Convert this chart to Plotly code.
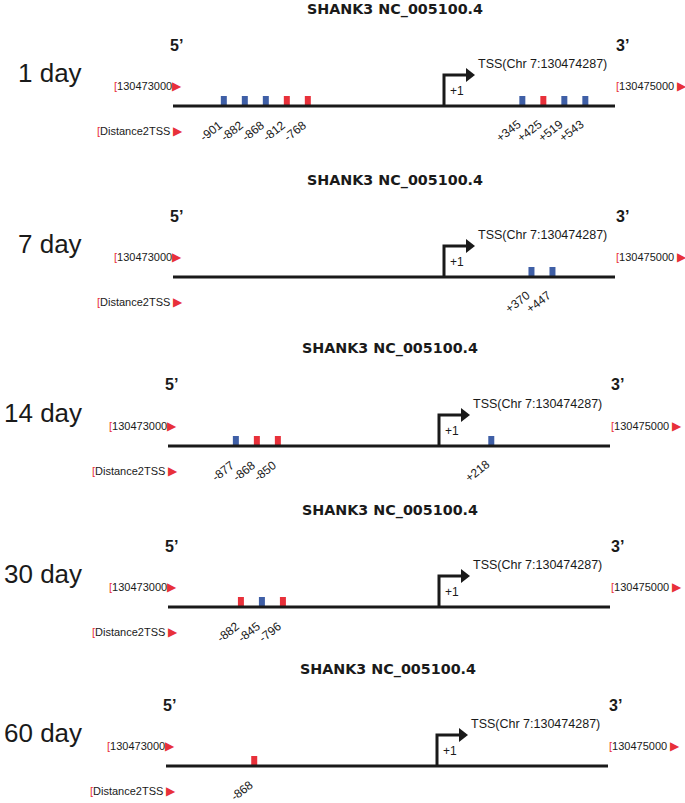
import plotly.graph_objects as go

# ---------------- data ----------------
GENE_TITLE = "SHANK3 NC_005100.4"
REGION_START = 130473000
REGION_END = 130475000
TSS = 130474287
TSS_LABEL = "TSS(Chr 7:130474287)"
DIST_LABEL = "Distance2TSS"

day_labels = ["1 day", "7 day", "14 day", "30 day", "60 day"]
blue_sites = [
    [-901, -882, -868, 345, 519, 543],
    [370, 447],
    [-877, 218],
    [-845],
    [],
]
red_sites = [
    [-812, -768, 425],
    [],
    [-868, -850],
    [-882, -796],
    [-868],
]

# ---------------- layout / style ----------------
W, H = 685, 803
panel_line_y = [106, 277, 446, 607, 766]
panel_line_x0 = [173, 173, 168, 168, 166]
LINE_LEN = 442
TSS_OFF = 271
BLUE = "#3f5fa6"
RED = "#e8303a"
INK = "#1a1a1a"
FONT = "Liberation Sans, Arial, sans-serif"
MARK_W = 6
MARK_H = 10
MARK_GAP = 21
Y_LO, Y_HI = -35, 100
PAD = 8
ARROW_H = 31
ARROW_W = 22
TRI_SIZE = 12

up_span = TSS - REGION_START
down_span = REGION_END - TSS
up_scale = TSS_OFF / up_span
down_scale = (LINE_LEN - TSS_OFF) / down_span


def spread(values, gap):
    """Keep markers apart: overlapping groups keep their centroid, members spaced by gap."""
    vals = sorted(values)
    clusters = [[v] for v in vals]

    def pos(c):
        m = sum(c) / len(c)
        n = len(c)
        return [m + (i - (n - 1) / 2) * gap for i in range(n)]

    merged = True
    while merged:
        merged = False
        out = []
        for c in clusters:
            if out and pos(out[-1])[-1] + gap > pos(c)[0] + 1e-9:
                out[-1] = out[-1] + c
                merged = True
            else:
                out.append(c)
        clusters = out
    result = []
    for c in clusters:
        result.extend(zip(c, pos(c)))
    return result


fig = go.Figure()
layout = dict(
    width=W, height=H, margin=dict(l=0, r=0, t=0, b=0),
    paper_bgcolor="white", plot_bgcolor="rgba(0,0,0,0)",
    showlegend=False, barmode="overlay",
    font=dict(family=FONT, color=INK, size=12),
)
annotations = []

for k in range(5):
    ly = panel_line_y[k]
    x0 = panel_line_x0[k]
    yi = k + 1
    xu, xd = 2 * k + 1, 2 * k + 2
    yname = "y" if yi == 1 else f"y{yi}"
    xun = "x" if xu == 1 else f"x{xu}"
    xdn = f"x{xd}"

    layout["yaxis" if yi == 1 else f"yaxis{yi}"] = dict(
        domain=[(H - (ly - Y_LO)) / H, (H - (ly - Y_HI)) / H],
        range=[Y_LO, Y_HI], visible=False, fixedrange=True, anchor=xun)
    layout["xaxis" if xu == 1 else f"xaxis{xu}"] = dict(
        domain=[x0 / W, (x0 + TSS_OFF) / W], range=[-up_span, 0],
        visible=False, fixedrange=True, anchor=yname)
    layout[f"xaxis{xd}"] = dict(
        domain=[(x0 + TSS_OFF - PAD) / W, (x0 + LINE_LEN) / W],
        range=[-PAD / down_scale, down_span],
        visible=False, fixedrange=True, anchor=yname)

    sites = [(d, BLUE) for d in blue_sites[k]] + [(d, RED) for d in red_sites[k]]
    color_of = {}
    for d, c in sites:
        color_of[d] = c
    up_vals = [d for d, _ in sites if d < 0]
    down_vals = [d for d, _ in sites if d > 0]
    placed = []
    for vals, scale, xn in ((up_vals, up_scale, xun), (down_vals, down_scale, xdn)):
        if not vals:
            continue
        for d, p in spread(vals, MARK_GAP / scale):
            placed.append((d, p, scale, xn))

    for color in (BLUE, RED):
        for xn, scale in ((xun, up_scale), (xdn, down_scale)):
            pts = [p for d, p, s, x in placed if x == xn and color_of[d] == color]
            if pts:
                fig.add_trace(go.Bar(
                    x=pts, y=[MARK_H] * len(pts), width=MARK_W / scale,
                    marker=dict(color=color, line=dict(width=0)),
                    xaxis=xn, yaxis=yname, hoverinfo="skip"))

    # genomic line (region start -> TSS -> region end)
    fig.add_trace(go.Scatter(x=[-up_span, 0], y=[0, 0], mode="lines",
                             line=dict(color=INK, width=3), xaxis=xun, yaxis=yname,
                             hoverinfo="skip"))
    fig.add_trace(go.Scatter(x=[0, down_span], y=[0, 0], mode="lines",
                             line=dict(color=INK, width=3), xaxis=xdn, yaxis=yname,
                             hoverinfo="skip"))
    # TSS bent arrow
    aw = ARROW_W / down_scale
    fig.add_trace(go.Scatter(x=[0, 0, aw], y=[0, ARROW_H, ARROW_H], mode="lines",
                             line=dict(color=INK, width=3), xaxis=xdn, yaxis=yname,
                             hoverinfo="skip"))
    fig.add_trace(go.Scatter(x=[(ARROW_W + TRI_SIZE / 4) / down_scale], y=[ARROW_H],
                             mode="markers",
                             marker=dict(symbol="triangle-right", size=TRI_SIZE, color=INK,
                                         line=dict(width=0)),
                             xaxis=xdn, yaxis=yname, hoverinfo="skip"))

    # texts
    annotations.append(dict(text=f"<b>{GENE_TITLE}</b>", xref="paper", yref=yname,
                            x=(x0 + LINE_LEN / 2 + 1) / W, y=97, showarrow=False,
                            xanchor="center", yanchor="middle",
                            font=dict(family="DejaVu Sans", size=14.3, color=INK)))
    annotations.append(dict(text=day_labels[k], xref="paper", yref=yname,
                            x=84 / W, y=33, showarrow=False,
                            xanchor="right", yanchor="middle",
                            font=dict(size=26, color=INK)))
    annotations.append(dict(text="<b>5\u2019</b>", xref="paper", yref=yname,
                            x=(x0 + 3) / W, y=61, showarrow=False,
                            xanchor="center", yanchor="middle", font=dict(size=16)))
    annotations.append(dict(text="<b>3\u2019</b>", xref="paper", yref=yname,
                            x=(x0 + LINE_LEN + 7) / W, y=61, showarrow=False,
                            xanchor="center", yanchor="middle", font=dict(size=16)))
    red_span = f'<span style="color:{RED}">'
    tri = f'{red_span}<span style="font-size:12px">\u25B6</span></span>'
    annotations.append(dict(
        text=f'{red_span}[</span>{REGION_START}{tri}',
        xref="paper", yref=yname, x=(x0 + 11) / W, y=20, showarrow=False,
        xanchor="right", yanchor="middle", font=dict(size=11)))
    annotations.append(dict(
        text=f'{red_span}[</span>{DIST_LABEL} {tri}',
        xref="paper", yref=yname, x=(x0 + 12) / W, y=-25, showarrow=False,
        xanchor="right", yanchor="middle", font=dict(size=11)))
    annotations.append(dict(
        text=f'{red_span}[</span>{REGION_END} {tri}',
        xref="paper", yref=yname, x=(x0 + LINE_LEN - 1) / W, y=20, showarrow=False,
        xanchor="left", yanchor="middle", font=dict(size=11)))
    annotations.append(dict(text=TSS_LABEL, xref=xdn, yref=yname, x=0, y=42,
                            xshift=32, showarrow=False, xanchor="left", yanchor="middle",
                            font=dict(size=12.5)))
    annotations.append(dict(text="+1", xref=xdn, yref=yname, x=0, y=15,
                            xshift=13, showarrow=False, xanchor="center", yanchor="middle",
                            font=dict(size=12)))
    for d, p, s, xn in placed:
        annotations.append(dict(text=f"{d:+d}", xref=xn, yref=yname, x=p, y=-25,
                                xshift=4, showarrow=False, textangle=-38,
                                xanchor="right", yanchor="middle",
                                font=dict(size=12)))

layout["annotations"] = annotations
fig.update_layout(**layout)

fig.write_html("out.html", config={"displayModeBar": False},
               post_script="document.body.style.margin='0';")
